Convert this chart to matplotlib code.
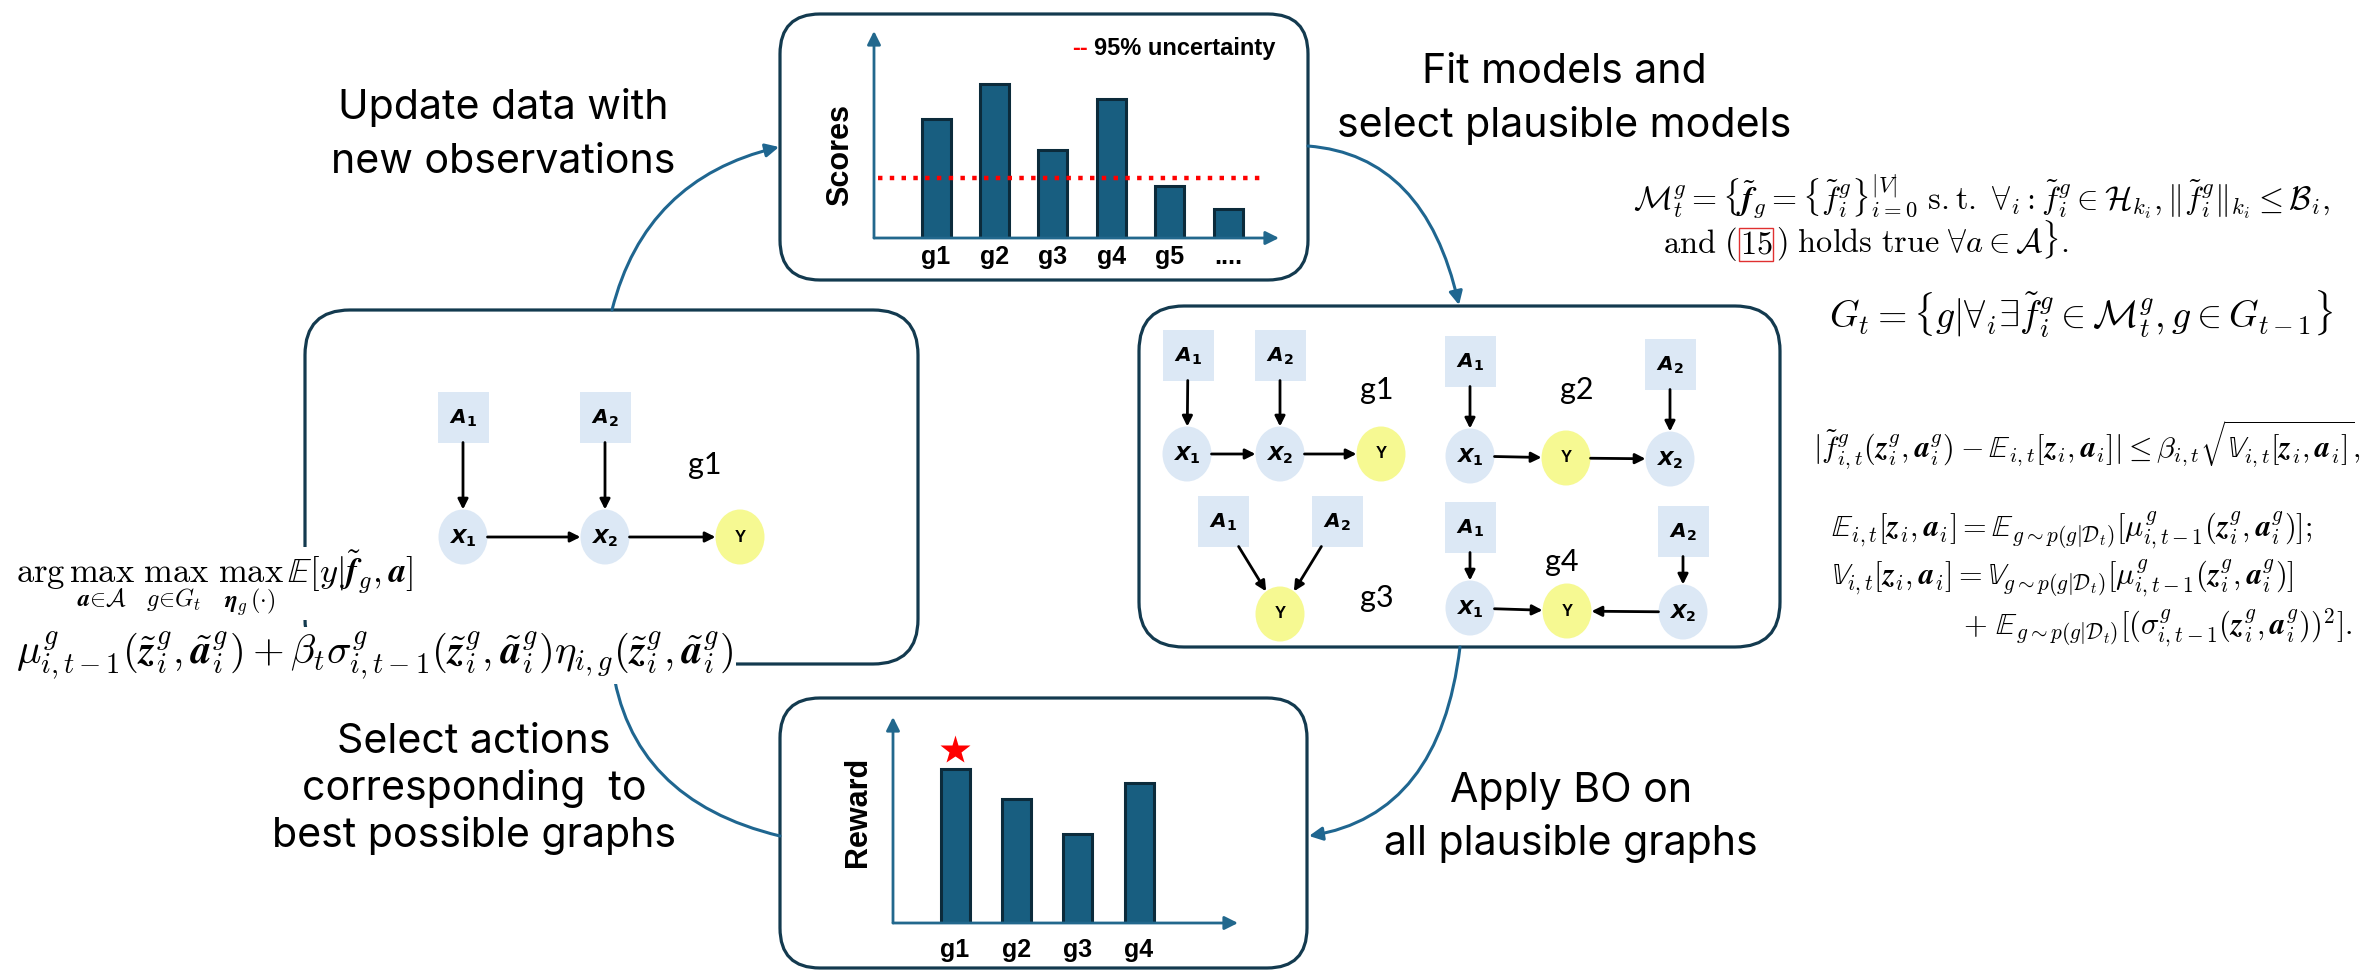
import numpy as np
import matplotlib
matplotlib.use("Agg")
import matplotlib.pyplot as plt
from matplotlib.patches import FancyBboxPatch, Ellipse, Rectangle, FancyArrowPatch
from matplotlib.path import Path
from matplotlib.mathtext import MathTextParser
from matplotlib.font_manager import FontProperties

# ---------------- data ----------------
score_labels = ["g1", "g2", "g3", "g4", "g5", "...."]
scores = [5.75, 7.44, 4.25, 6.71, 2.51, 1.40]
score_threshold = 2.9
reward_labels = ["g1", "g2", "g3", "g4"]
rewards = [7.5, 6.0, 4.3, 6.8]
best_graph = 0

g1_edges = [("A1", "X1"), ("A2", "X2"), ("X1", "X2"), ("X2", "Y")]
g2_edges = [("A1", "X1"), ("A2", "X2"), ("X1", "Y"), ("Y", "X2")]
g3_edges = [("A1", "Y"), ("A2", "Y")]
g4_edges = [("A1", "X1"), ("A2", "X2"), ("X1", "Y"), ("X2", "Y")]

captions = ["Update data with", "new observations",
            "Fit models and", "select plausible models",
            "Select actions", "corresponding  to", "best possible graphs",
            "Apply BO on", "all plausible graphs"]

# ---------------- style ----------------
W, H = 2369, 976
BOX = "#133A4F"
CURVE = "#1F6690"
BAR = "#185E80"
BAR_EDGE = "#0C2B3B"
AXC = "#22688D"
NODE_BLUE = "#DCE8F5"
NODE_YEL = "#F6F992"
CAP_FONT = ["Inter", "DejaVu Sans"]
BOLD_FONT = ["Liberation Sans", "DejaVu Sans"]
GL_FONT = ["Lato", "DejaVu Sans"]

fig = plt.figure(figsize=(W / 100, H / 100), dpi=100)
ax = fig.add_axes([0, 0, 1, 1])
ax.set_xlim(0, W)
ax.set_ylim(H, 0)
ax.axis("off")
R = fig.canvas.get_renderer()

_parser = MathTextParser("path")


def safe_math(s, fam="cm"):
    cands = [s, s.replace(r"\mathbfit", r"\mathbf"),
             s.replace(r"\mathbfit", r"\mathbf").replace(r"\mathbb", r"\mathrm")]
    for c in cands:
        try:
            _parser.parse(c, dpi=72, prop=FontProperties(math_fontfamily=fam, size=12))
            return c
        except Exception:
            continue
    return cands[-1]


def width_px(t):
    return t.get_window_extent(renderer=R).width


def fit(t, target):
    for _ in range(2):
        t.set_fontsize(t.get_fontsize() * target / width_px(t))
    return t.get_fontsize()


def rbox(x0, y0, x1, y1, r=42):
    ax.add_patch(FancyBboxPatch((x0, y0), x1 - x0, y1 - y0,
                                boxstyle=f"round,pad=0,rounding_size={r}",
                                fc="none", ec=BOX, lw=2.3, zorder=1))


def curve(p0, p1, p2, arrow=True):
    path = Path([p0, p1, p2], [Path.MOVETO, Path.CURVE3, Path.CURVE3])
    ax.add_patch(FancyArrowPatch(path=path, arrowstyle="-|>" if arrow else "-",
                                 mutation_scale=20, lw=2.2, color=CURVE, zorder=2))


# ---------------- boxes & curves ----------------
rbox(780, 14, 1308, 280, r=40)      # scores
rbox(305, 310, 918, 664, r=45)      # single graph
rbox(1139, 306, 1780, 647, r=45)    # candidate graphs
rbox(780, 698, 1307, 968, r=40)     # reward

curve((612, 310), (645, 179), (779, 147))
curve((1308, 146), (1425, 155), (1459, 305))
curve((1460, 647), (1440, 815), (1309, 836))
curve((780, 836), (630, 800), (612, 664), arrow=False)

# ---------------- captions ----------------
cap_pos = [(503, 119, 332), (503, 173, 342), (1564, 83, 285), (1564, 137, 467),
           (474, 753, 277), (474, 800, 342), (474, 847, 400),
           (1571, 802, 238), (1571, 855, 378)]
cap_texts = []
sizes = []
for s, (cx, by, tw) in zip(captions, cap_pos):
    t = ax.text(cx, by, s, ha="center", va="baseline", fontsize=28,
                family=CAP_FONT, color="black", zorder=6)
    sizes.append(fit(t, tw))
    cap_texts.append(t)
cap_fs = float(np.median(sizes))
for t in cap_texts:
    t.set_fontsize(cap_fs)

# ---------------- graphs ----------------
RW, RH = 51, 51
EW, EH = 49, 55


def boundary(node, d):
    kind, x, y = node
    dx, dy = d
    if kind == "rect":
        s = min(RW / 2 / abs(dx) if abs(dx) > 1e-9 else np.inf,
                RH / 2 / abs(dy) if abs(dy) > 1e-9 else np.inf)
    else:
        s = 1.0 / np.hypot(dx / (EW / 2), dy / (EH / 2))
    return x + dx * s, y + dy * s


NODE_TXT = {"A1": r"$\mathbfit{A}_{\mathbf{1}}$", "A2": r"$\mathbfit{A}_{\mathbf{2}}$",
            "X1": r"$\mathbfit{X}_{\mathbf{1}}$", "X2": r"$\mathbfit{X}_{\mathbf{2}}$"}


def draw_graph(nodes, edges, label):
    for name, (kind, x, y) in nodes.items():
        if kind == "rect":
            ax.add_patch(Rectangle((x - RW / 2, y - RH / 2), RW, RH, fc=NODE_BLUE, ec="none", zorder=3))
        else:
            ax.add_patch(Ellipse((x, y), EW, EH, fc=NODE_YEL if name == "Y" else NODE_BLUE,
                                 ec="none", zorder=3))
        if name == "Y":
            ax.text(x, y, "Y", ha="center", va="center", fontsize=12, fontweight="bold",
                    family=BOLD_FONT, zorder=4)
        else:
            ax.text(x, y + 1, safe_math(NODE_TXT[name], "dejavusans"), ha="center", va="center",
                    fontsize=14.5, math_fontfamily="dejavusans", zorder=4)
    for a, b in edges:
        na, nb = nodes[a], nodes[b]
        v = np.array([nb[1] - na[1], nb[2] - na[2]], float)
        d = v / np.linalg.norm(v)
        p0 = boundary(na, d)
        p1 = boundary(nb, -d)
        ax.add_patch(FancyArrowPatch(p0, p1, arrowstyle="-|>", mutation_scale=15, lw=2.0,
                                     color="black", shrinkA=0, shrinkB=0, zorder=4))
    lt, lx, ly = label
    ax.text(lx, ly, lt, ha="center", va="center", fontsize=22, family=GL_FONT, zorder=4)


draw_graph({"A1": ("rect", 463, 417), "A2": ("rect", 605, 417), "X1": ("ell", 463, 537),
            "X2": ("ell", 605, 537), "Y": ("ell", 740, 537)}, g1_edges, ("g1", 705, 465))
draw_graph({"A1": ("rect", 1188, 355), "A2": ("rect", 1280, 355), "X1": ("ell", 1187, 454),
            "X2": ("ell", 1280, 454), "Y": ("ell", 1381, 454)}, g1_edges, ("g1", 1377, 390))
draw_graph({"A1": ("rect", 1470, 361), "A2": ("rect", 1670, 364), "X1": ("ell", 1470, 456),
            "Y": ("ell", 1566, 458), "X2": ("ell", 1670, 459)}, g2_edges, ("g2", 1577, 390))
draw_graph({"A1": ("rect", 1223, 521), "A2": ("rect", 1337, 521), "Y": ("ell", 1280, 614)},
           g3_edges, ("g3", 1377, 598))
draw_graph({"A1": ("rect", 1470, 527), "A2": ("rect", 1683, 531), "X1": ("ell", 1470, 608),
            "Y": ("ell", 1567, 611), "X2": ("ell", 1683, 612)}, g4_edges, ("g4", 1562, 562))


# ---------------- bar charts ----------------
def frac(x0, ytop, x1, ybot):
    return [x0 / W, 1 - ybot / H, (x1 - x0) / W, (ybot - ytop) / H]


def chart(rect, labels, values, c0, c_last, pad):
    a = fig.add_axes(rect)
    a.patch.set_alpha(0)
    n = len(values)
    x0 = rect[0] * W
    x1 = (rect[0] + rect[2]) * W
    unit = (c_last - c0) / (n - 1)
    a.set_xlim(-(c0 - x0) / unit, (n - 1) + (x1 - c_last) / unit)
    a.set_ylim(0, 10)
    idx = np.arange(n)
    a.bar(idx, values, width=29 / unit, color=BAR, edgecolor=BAR_EDGE, lw=2.2, zorder=2)
    for sp in a.spines.values():
        sp.set_visible(False)
    a.set_yticks([])
    a.set_xticks(idx)
    a.set_xticklabels(labels, fontsize=18, fontweight="bold", family=BOLD_FONT)
    a.tick_params(axis="x", length=0, pad=pad)
    for xy in [(1, 0), (0, 1)]:
        a.annotate("", xy=xy, xytext=(0, 0), xycoords="axes fraction",
                   arrowprops=dict(arrowstyle="-|>", color=AXC, lw=2.0, mutation_scale=20,
                                   shrinkA=0, shrinkB=0), annotation_clip=False, zorder=3)
    return a


ax_s = chart(frac(874, 31, 1279, 238), score_labels, scores, 936, 1228, 5)
ax_s.axhline(score_threshold, xmin=0.01, xmax=0.96, color="red", ls=":", lw=3.2, zorder=3)
ax_s.text(-0.084, 0.40, "Scores", transform=ax_s.transAxes, rotation=90, ha="center",
          va="center", fontsize=22, fontweight="bold", family=BOLD_FONT)
ax.text(1072, 49, "--", color="red", fontsize=17, fontweight="bold", family=BOLD_FONT,
        ha="left", va="center", zorder=6)
ax.text(1094, 49, "95% uncertainty", color="black", fontsize=17, fontweight="bold",
        family=BOLD_FONT, ha="left", va="center", zorder=6)

ax_r = chart(frac(893, 717, 1238, 923), reward_labels, rewards, 955, 1139, 11)
ax_r.plot([best_graph], [rewards[best_graph] + 0.9], marker="*", ms=22, color="red",
          mec="none", zorder=4, clip_on=False)
ax_r.text(-0.101, 0.54, "Reward", transform=ax_r.transAxes, rotation=90, ha="center",
          va="center", fontsize=22, fontweight="bold", family=BOLD_FONT)

# ---------------- equations ----------------
WB = dict(fc="white", ec="none", pad=1)


def eq(x, y, s, target=None, fs=20, ha="left", bbox=None):
    t = ax.text(x, y, safe_math(s), ha=ha, va="baseline", fontsize=fs,
                math_fontfamily="cm", zorder=5, bbox=bbox)
    if target:
        fit(t, target)
    return t


eq_argmax = (r"$\arg\max_{\mathbfit{a}\in\mathcal{A}}\ \max_{g\in G_t}\ \max_{\mathbfit{\eta}_g(\cdot)}\,"
             r"\mathbb{E}[y|\tilde{\mathbfit{f}}_g,\mathbfit{a}]$")
eq_mu = (r"$\mu_{i,t-1}^g(\tilde{\mathbfit{z}}_i^g,\tilde{\mathbfit{a}}_i^g)+\beta_t\sigma_{i,t-1}^g"
         r"(\tilde{\mathbfit{z}}_i^g,\tilde{\mathbfit{a}}_i^g)\eta_{i,g}(\tilde{\mathbfit{z}}_i^g,"
         r"\tilde{\mathbfit{a}}_i^g)$")
eq(16, 583, eq_argmax, target=397, bbox=WB)
eq(16, 663, eq_mu, target=718, bbox=WB)

eq_M1 = (r"$\mathcal{M}_t^g=\{\tilde{\mathbfit{f}}_g=\{\tilde{f}_i^g\}_{i=0}^{|V|}\ \mathrm{s.t.}\ "
         r"\forall_i:\tilde{f}_i^g\in\mathcal{H}_{k_i},\Vert\tilde{f}_i^g\Vert_{k_i}\leq\mathcal{B}_i,$")
tM = eq(1633, 210, eq_M1, target=697)
fsM = tM.get_fontsize()
x = 1663
for s, boxed in [(r"$\mathrm{and}\ ($", False), (r"$15$", True),
                 (r"$)\ \mathrm{holds\ true}\ \forall a\in\mathcal{A}\}.$", False)]:
    t = eq(x, 253, s, fs=fsM)
    if boxed:
        t.set_bbox(dict(fc="none", ec="#E03030", lw=1.0, pad=0.5))
    x += width_px(t) + (3 if boxed or s.startswith(r"$\mathrm{and}") else 0)

eq(1829, 327, r"$G_t=\{g|\forall_i\exists\tilde{f}_i^g\in\mathcal{M}_t^g,g\in G_{t-1}\}$", target=504)

eq(1813, 457, r"$|\tilde{f}_{i,t}^g(\mathbfit{z}_i^g,\mathbfit{a}_i^g)-\mathbb{E}_{i,t}[\mathbfit{z}_i,"
              r"\mathbfit{a}_i]|\leq\beta_{i,t}\sqrt{\mathbb{V}_{i,t}[\mathbfit{z}_i,\mathbfit{a}_i]},$",
   target=548)
tE = eq(1831, 537, r"$\mathbb{E}_{i,t}[\mathbfit{z}_i,\mathbfit{a}_i]=\mathbb{E}_{g\sim p(g|\mathcal{D}_t)}"
                   r"[\mu_{i,t-1}^g(\mathbfit{z}_i^g,\mathbfit{a}_i^g)];$", target=481)
fsE = tE.get_fontsize()
eq(1831, 585, r"$\mathbb{V}_{i,t}[\mathbfit{z}_i,\mathbfit{a}_i]=\mathbb{V}_{g\sim p(g|\mathcal{D}_t)}"
              r"[\mu_{i,t-1}^g(\mathbfit{z}_i^g,\mathbfit{a}_i^g)]$", fs=fsE)
eq(1963, 635, r"$+\ \mathbb{E}_{g\sim p(g|\mathcal{D}_t)}[(\sigma_{i,t-1}^g(\mathbfit{z}_i^g,"
              r"\mathbfit{a}_i^g))^2].$", fs=fsE)

fig.savefig("out.png", dpi=100, facecolor="white")
